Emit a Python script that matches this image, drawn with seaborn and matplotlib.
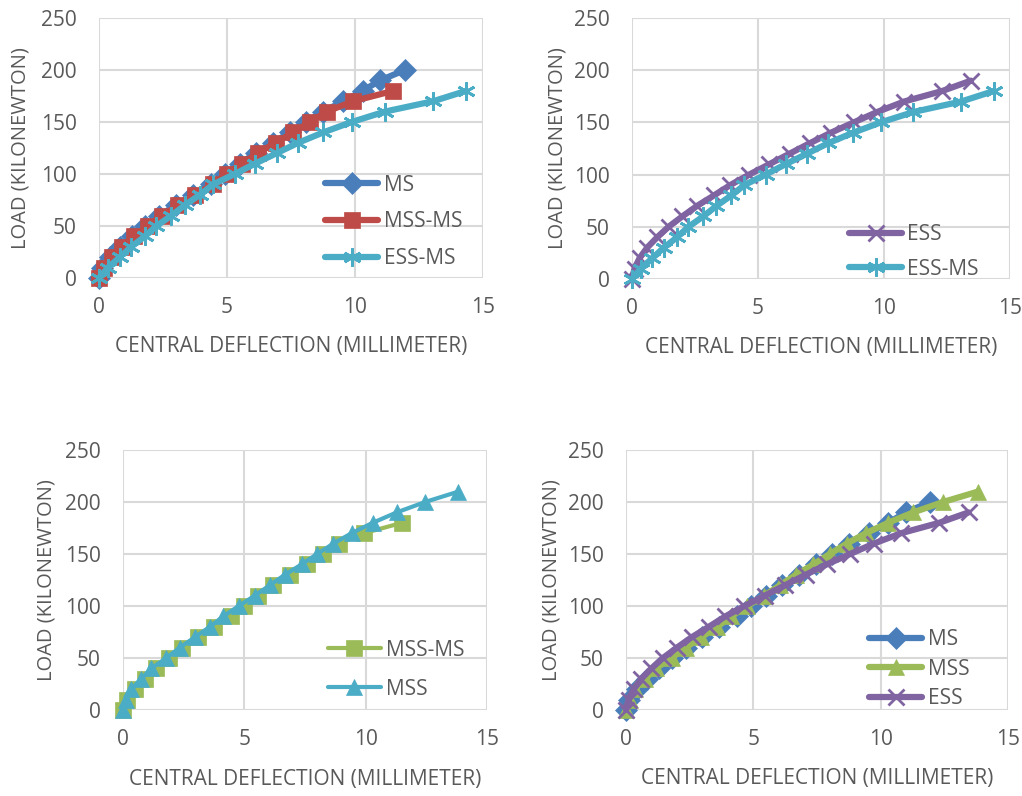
import matplotlib
matplotlib.use("Agg")
import matplotlib.pyplot as plt
import pandas as pd
import seaborn as sns

# Load steps (kN) and central deflection (mm) per specimen.
load_200 = list(range(0, 210, 10))
load_180 = list(range(0, 190, 10))
load_190 = list(range(0, 200, 10))
load_210 = list(range(0, 220, 10))

ms_defl = [0, 0.12, 0.42, 0.82, 1.28, 1.8, 2.36, 3.0, 3.66, 4.36, 4.92,
           5.5, 6.12, 6.8, 7.45, 8.1, 8.75, 9.55, 10.3, 10.98, 11.95]
mss_ms_defl = [0, 0.18, 0.5, 0.9, 1.38, 1.9, 2.45, 3.1, 3.75, 4.45, 5.0,
               5.57, 6.2, 6.9, 7.58, 8.24, 8.9, 9.93, 11.5]
ess_ms_defl = [0, 0.35, 0.81, 1.26, 1.79, 2.24, 2.83, 3.35, 3.94, 4.46, 5.3,
               6.1, 6.94, 7.78, 8.76, 9.87, 11.17, 13.06, 14.35]
ess_defl = [0, 0.1, 0.3, 0.6, 1.0, 1.45, 2.0, 2.58, 3.25, 3.9, 4.65,
            5.45, 6.25, 7.05, 7.88, 8.8, 9.73, 10.8, 12.3, 13.45]
mss_defl = [0, 0.14, 0.34, 0.76, 1.17, 1.79, 2.34, 2.96, 3.58, 4.13, 4.77,
            5.43, 6.05, 6.67, 7.36, 8.0, 8.67, 9.42, 10.29, 11.28, 12.45, 13.82]

BLUE, RED, CYAN, PURPLE, GREEN = "#4A7EBB", "#BE4B48", "#4BACC6", "#8064A2", "#9BBB59"
GRID = "#D9D9D9"
TEXT = "#595959"
ASTERISK = (6, 2, 0)

sns.set_theme(style="whitegrid")
plt.rcParams["font.family"] = ["Open Sans", "DejaVu Sans"]

series = {
    "MS": (ms_defl, load_200, BLUE, "D", 11),
    "MSS-MS": (mss_ms_defl, load_180, RED, "s", 12),
    "ESS-MS": (ess_ms_defl, load_180, CYAN, ASTERISK, 13),
    "ESS": (ess_defl, load_190, PURPLE, "x", 11),
    "MSS": (mss_defl, load_210, CYAN, "^", 11),
}

W, H = 1022, 796
fig = plt.figure(figsize=(W / 100, H / 100), dpi=100)


def make_axes(x0, x1, y_top, y_bot):
    return fig.add_axes([x0 / W, 1 - y_bot / H, (x1 - x0) / W, (y_bot - y_top) / H])


def draw(ax, names, lw, leg_xy, leg_space, xlab_y, ylab_x, colors=None):
    colors = colors or {}
    for name in names:
        x, y, color, marker, ms = series[name]
        color = colors.get(name, color)
        df = pd.DataFrame({"deflection": x, "load": y})
        mew = 2.0 if marker in ("x", ASTERISK) else 0.5
        sns.lineplot(data=df, x="deflection", y="load", ax=ax, sort=False,
                     color=color, linewidth=lw, marker=marker, markersize=ms,
                     markeredgecolor=color, markeredgewidth=mew,
                     label=name, clip_on=False)
    ax.set_xlim(0, 15)
    ax.set_ylim(0, 250)
    ax.set_xticks([0, 5, 10, 15])
    ax.set_yticks(range(0, 251, 50))
    ax.grid(True, color=GRID, linewidth=1.5)
    for s in ax.spines.values():
        s.set_visible(False)
    ax.tick_params(axis="both", colors=TEXT, labelsize=15, length=0)
    ax.tick_params(axis="x", pad=14)
    ax.tick_params(axis="y", pad=16)
    ax.set_xlabel("CENTRAL DEFLECTION (MILLIMETER)", color=TEXT, fontsize=15, va="center")
    ax.set_ylabel("LOAD (KILONEWTON)", color=TEXT, fontsize=14.5, va="center")
    ax.xaxis.set_label_coords(0.5, xlab_y)
    ax.yaxis.set_label_coords(ylab_x, 0.5)
    leg = ax.legend(loc="upper left", bbox_to_anchor=leg_xy, frameon=False,
                    fontsize=15, handlelength=2.55, handletextpad=0.25,
                    labelspacing=leg_space, borderpad=0, borderaxespad=0)
    for t in leg.get_texts():
        t.set_color(TEXT)


ax1 = make_axes(99, 483, 18, 278)
draw(ax1, ["MS", "MSS-MS", "ESS-MS"], 4.5, (0.589, 0.398), 0.76, -0.265, -0.205)

ax2 = make_axes(632, 1010, 18, 279)
draw(ax2, ["ESS", "ESS-MS"], 4.5, (0.574, 0.21), 0.64, -0.262, -0.198)

ax3 = make_axes(123, 487, 450, 710)
draw(ax3, ["MSS-MS", "MSS"], 3, (0.563, 0.271), 0.87, -0.269, -0.21,
     colors={"MSS-MS": GREEN})

ax4 = make_axes(626, 1008, 450, 710)
draw(ax4, ["MS", "MSS", "ESS"], 4.5, (0.637, 0.311), 0.41, -0.262, -0.195,
     colors={"MSS": GREEN})

fig.savefig("out.png", dpi=100)
